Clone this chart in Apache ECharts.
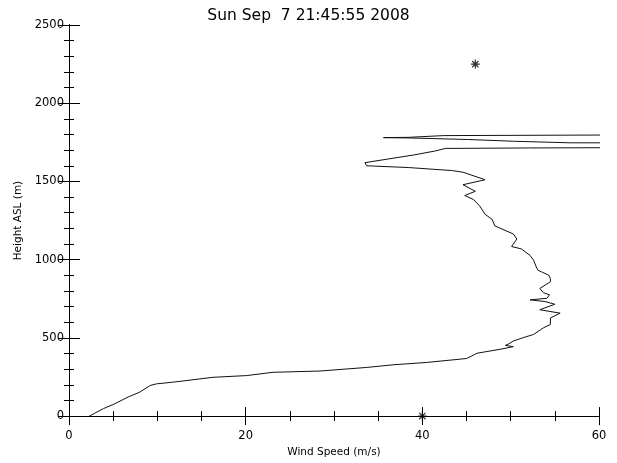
<!DOCTYPE html>
<html>
<head>
<meta charset="utf-8">
<script src="https://cdn.jsdelivr.net/npm/echarts@6/dist/echarts.min.js"></script>
<style>
  html, body { margin: 0; padding: 0; background: #fff; }
  #main { width: 617px; height: 463px; }
</style>
</head>
<body>
<div id="main"></div>
<script>
// wind speed profile (speed m/s, height m)
var speeds = [2.3, 3.9, 5.0, 6.7, 8.0, 9.2, 9.9, 11.8, 16.3, 20.1, 23.1, 28.4, 33.7, 36.7, 40.5, 45.0,
  45.8, 46.2, 48.8, 50.3, 49.4, 49.8, 50.3, 51.4, 52.6, 53.7, 54.5, 54.5, 55.6, 53.3, 55.0, 53.9,
  52.2, 54.1, 54.4, 53.7, 53.3, 54.5, 54.5, 54.3, 53.5, 53.1, 52.9, 52.6, 52.2, 51.2, 50.1, 50.7,
  50.3, 48.2, 47.9, 47.1, 46.5, 45.8, 44.8, 46.0, 44.6, 47.1, 44.6, 43.3, 41.2, 38.4, 33.7, 33.5,
  39.0, 41.4, 42.2, 42.6, 52.0, 62.0, 62.0, 56.7, 56.7, 50.3, 50.3, 45.2, 38.5, 35.6, 38.5, 42.4, 62.0];
var heights = [0, 48, 74, 122, 153, 196, 206, 217, 248, 259, 280, 288, 311, 328, 343, 368,
  390, 402, 427, 444, 452, 462, 480, 501, 522, 564, 585, 627, 658, 680, 715, 732,
  743, 753, 775, 789, 816, 859, 879, 901, 922, 932, 953, 996, 1027, 1069, 1084, 1132,
  1164, 1216, 1258, 1290, 1343, 1384, 1410, 1437, 1479, 1511, 1559, 1570, 1578, 1589, 1600, 1620,
  1669, 1694, 1705, 1711, 1714, 1716, 1747, 1747, 1757, 1757, 1767, 1768, 1778, 1780, 1782, 1793, 1797];

// the two asterisk markers
var markSpeeds = [46, 40];
var markHeights = [2250, 0];

// axis ranges and steps
var xRange = [0, 60], xMajor = 20, xMinor = 5;
var yRange = [0, 2500], yMajor = 500, yMinor = 100;

var profile = speeds.map(function (s, i) { return [s, heights[i]]; });
var marks = markSpeeds.map(function (s, i) { return [s, markHeights[i]]; });

var font = '"DejaVu Sans", Verdana, sans-serif';
var black = '#000';
var plain = function (v) { return String(v); };

// one axis: major (labelled or not) or minor tick row
function axis(kind, pos, step, len, extra) {
  var r = kind === 'x' ? xRange : yRange;
  return Object.assign({
    type: 'value', min: r[0], max: r[1], interval: step, position: pos,
    axisLine: { show: true, lineStyle: { color: black, width: 1 } },
    axisTick: { show: true, inside: true, length: len, lineStyle: { color: black, width: 1 } },
    axisLabel: { show: false },
    splitLine: { show: false }
  }, extra || {});
}

var labelStyle = { fontFamily: font, fontSize: 11.5, color: black, formatter: plain };
var nameStyle = { fontFamily: font, fontSize: 10.5, color: black };

var chart = echarts.init(document.getElementById('main'));
chart.setOption({
  animation: false,
  backgroundColor: '#fff',
  title: {
    text: 'Sun Sep  7 21:45:55 2008',
    left: 'center',
    top: 3,
    textStyle: { fontFamily: font, fontSize: 15.5, fontWeight: 'normal', color: black }
  },
  grid: { left: 69, right: 18, top: 25, bottom: 42 },
  xAxis: [
    axis('x', 'bottom', xMajor, 9, {
      name: 'Wind Speed (m/s)', nameLocation: 'middle', nameGap: 30,
      nameTextStyle: nameStyle,
      axisLabel: Object.assign({ show: true, margin: 14 }, labelStyle)
    }),
    axis('x', 'top', xMajor, 9),
    axis('x', 'bottom', xMinor, 5),
    axis('x', 'top', xMinor, 5)
  ],
  yAxis: [
    axis('y', 'left', yMajor, 11, {
      name: 'Height ASL (m)', nameLocation: 'middle', nameGap: 43, nameRotate: 90,
      nameTextStyle: nameStyle,
      axisLabel: Object.assign({ show: true, margin: 5 }, labelStyle)
    }),
    axis('y', 'right', yMajor, 11),
    axis('y', 'left', yMinor, 5),
    axis('y', 'right', yMinor, 5)
  ],
  series: [
    {
      type: 'line',
      data: profile,
      xAxisIndex: 0,
      yAxisIndex: 0,
      showSymbol: false,
      clip: true,
      lineStyle: { color: '#111', width: 1 },
      emphasis: { disabled: true }
    },
    {
      type: 'scatter',
      data: marks,
      xAxisIndex: 0,
      yAxisIndex: 0,
      clip: false,
      symbol: 'path://M5,0L5,10M0,5L10,5M1.5,1.5L8.5,8.5M8.5,1.5L1.5,8.5',
      symbolSize: 9,
      itemStyle: { color: 'none', borderColor: black, borderWidth: 1.2 }
    }
  ]
});
</script>
</body>
</html>
